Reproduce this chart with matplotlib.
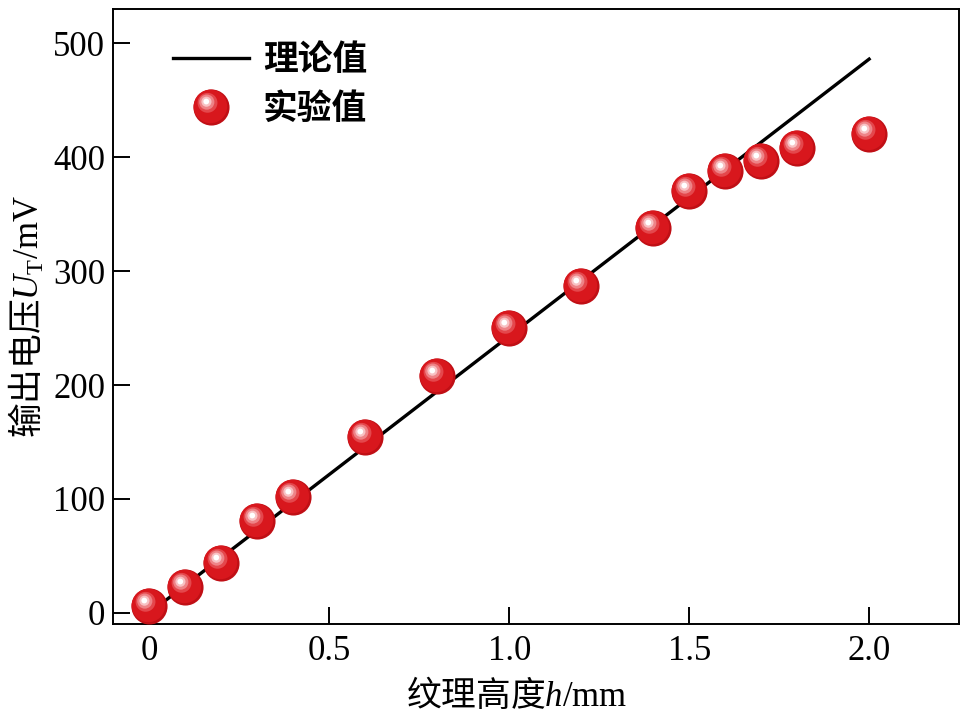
import numpy as np
import matplotlib
matplotlib.use('Agg')
import matplotlib.pyplot as plt
from matplotlib.path import Path
from matplotlib.legend_handler import HandlerTuple

plt.rcParams['font.family'] = ['Liberation Serif', 'Noto Sans CJK SC']
plt.rcParams['mathtext.fontset'] = 'custom'
plt.rcParams['mathtext.rm'] = 'Liberation Serif'
plt.rcParams['mathtext.it'] = 'Liberation Serif:italic'

# theory line (end points)
theory_h = [0.0, 2.0]
theory_u = [0.0, 486.0]

# measured values
exp_h = [0.0, 0.1, 0.2, 0.3, 0.4, 0.6, 0.8, 1.0, 1.2, 1.4, 1.5, 1.6, 1.7, 1.8, 2.0]
exp_u = [6, 23, 44, 81, 102, 154, 208, 250, 287, 338, 370, 388, 397, 408, 420]

xticks = [0, 0.5, 1.0, 1.5, 2.0]
xticklabels = ['0', '0.5', '1.0', '1.5', '2.0']
yticks = [0, 100, 200, 300, 400, 500]

legend_labels = ['理论值', '实验值']
xlabel = '纹理高度$h/\\mathrm{mm}$'
ylabel = '输出电压$U_\\mathrm{T}/\\mathrm{mV}$'


def disc(r, cx=0.0, cy=0.0):
    # circle marker inside a fixed [-1, 1] box so all layers share one scale
    c = Path.circle((cx, cy), r)
    verts = np.vstack([[[-1, -1], [1, 1]], c.vertices])
    codes = np.concatenate([[Path.MOVETO, Path.MOVETO], c.codes])
    return Path(verts, codes)


fig = plt.figure(figsize=(9.61, 7.18), dpi=100)
ax = fig.add_axes([0.118, 0.1305, 0.880, 0.857])

line, = ax.plot(theory_h, theory_u, color='black', lw=2.4, zorder=2)

# shaded sphere markers, built up from layers
layers = [
    (disc(1.0), '#c00f15'),
    (disc(0.93, -0.06, 0.06), '#d8171d'),
    (disc(0.55, -0.22, 0.26), '#e4474c'),
    (disc(0.42, -0.26, 0.30), '#ee8387'),
    (disc(0.28, -0.28, 0.32), '#f8c2c4'),
    (disc(0.16, -0.29, 0.33), '#ffffff'),
]
sphere = []
for path, col in layers:
    h, = ax.plot(exp_h, exp_u, ls='none', marker=path, ms=26,
                 mfc=col, mec='none', zorder=3)
    sphere.append(h)

ax.set_xlim(-0.1, 2.25)
ax.set_ylim(-10, 530)
ax.set_xticks(xticks)
ax.set_xticklabels(xticklabels)
ax.set_yticks(yticks)
ax.tick_params(direction='in', length=12, width=1.4, labelsize=25, pad=8,
               top=False, right=False)
ax.tick_params(axis='y', pad=6)
for s in ax.spines.values():
    s.set_linewidth(1.4)

ax.set_xlabel(xlabel, fontsize=25, family='Noto Sans CJK SC', labelpad=4)
ax.xaxis.set_label_coords(0.4775, -0.085)
ax.set_ylabel(ylabel, fontsize=25, family='Noto Sans CJK SC', labelpad=4)

ax.legend([line, tuple(sphere)], legend_labels,
          handler_map={tuple: HandlerTuple(ndivide=1, pad=0)},
          loc='upper left', bbox_to_anchor=(0.033, 0.997), frameon=False,
          numpoints=1, handlelength=2.2, handletextpad=0.4, labelspacing=0.4,
          prop={'family': 'Noto Sans CJK SC', 'size': 25, 'weight': 'bold'})

fig.savefig('out.png', dpi=100)
